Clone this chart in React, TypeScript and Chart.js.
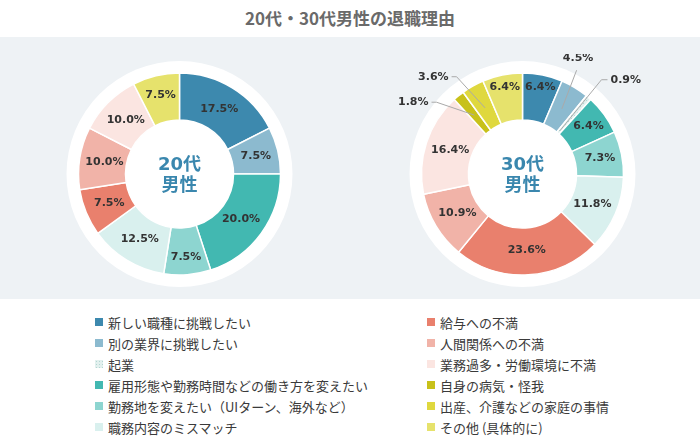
import React, { useEffect, useRef } from "react";
import { Chart, registerables } from "chart.js";

Chart.register(...registerables);

const categories = [
  "新しい職種に挑戦したい",
  "別の業界に挑戦したい",
  "起業",
  "雇用形態や勤務時間などの働き方を変えたい",
  "勤務地を変えたい（UIターン、海外など）",
  "職務内容のミスマッチ",
  "給与への不満",
  "人間関係への不満",
  "業務過多・労働環境に不満",
  "自身の病気・怪我",
  "出産、介護などの家庭の事情",
  "その他 (具体的に)",
];
const values20s = [17.5, 7.5, 0, 20.0, 7.5, 12.5, 7.5, 10.0, 10.0, 0, 0, 7.5];
const values30s = [6.4, 4.5, 0.9, 6.4, 7.3, 11.8, 23.6, 10.9, 16.4, 1.8, 3.6, 6.4];
const center20s = ["20代", "男性"];
const center30s = ["30代", "男性"];
const titleText = "20代・30代男性の退職理由";

const colors = [
  "#3d89ae",
  "#8cbacf",
  "PATTERN",
  "#42b8b1",
  "#8dd5d0",
  "#d9f0ee",
  "#e9806d",
  "#f1b3a8",
  "#fbe5e1",
  "#c8c11a",
  "#dfd83e",
  "#e6e26c",
];

type Outside = { shift: number; r: number; hook: number; mode: "above" | "side"; startR?: number };
const outside20s: Record<number, Outside> = {};
const outside30s: Record<number, Outside> = {
  1: { shift: -3.6, r: 117, hook: 0, mode: "above" },
  2: { shift: -0.9, r: 123, hook: 6, mode: "side", startR: 57 },
  9: { shift: -10.9, r: 112, hook: -5, mode: "side" },
  10: { shift: -4.6, r: 117.5, hook: -5, mode: "side" },
};
// inside-label radius tweaks for narrow slices (style only)
const labelRadius20s: Record<number, number> = { 1: 78.5, 4: 83, 11: 81 };
const labelRadius30s: Record<number, number> = { 0: 89, 3: 81.5, 4: 79, 11: 89 };

function makePattern(): CanvasPattern | string {
  const c = document.createElement("canvas");
  c.width = 3;
  c.height = 3;
  const g = c.getContext("2d");
  if (!g) return "#dfeeec";
  g.fillStyle = "#e2f0ee";
  g.fillRect(0, 0, 3, 3);
  g.fillStyle = "#b3d6d2";
  g.fillRect(1, 1, 1, 1);
  const p = g.createPattern(c, "repeat");
  return p || "#dfeeec";
}

function makePlugin(outside: Record<number, Outside>, radii: Record<number, number>, centerText: string[]) {
  return {
    id: "donutDecor",
    beforeDatasetsDraw(chart: any) {
      const meta = chart.getDatasetMeta(0);
      const arc = meta.data[0];
      if (!arc) return;
      const { x, y, outerRadius } = arc.getProps(["x", "y", "outerRadius"], true);
      const ctx = chart.ctx;
      ctx.save();
      ctx.beginPath();
      ctx.arc(x, y, outerRadius + 12, 0, Math.PI * 2);
      ctx.fillStyle = "#ffffff";
      ctx.fill();
      ctx.restore();
    },
    afterDatasetsDraw(chart: any) {
      const ctx = chart.ctx;
      const meta = chart.getDatasetMeta(0);
      const data = chart.data.datasets[0].data as number[];
      ctx.save();
      ctx.font = 'bold 11px "DejaVu Sans", "Noto Sans CJK JP"';
      ctx.fillStyle = "#333333";
      let cx = 0;
      let cy = 0;
      meta.data.forEach((el: any, i: number) => {
        const v = data[i];
        const p = el.getProps(["x", "y", "startAngle", "endAngle", "innerRadius", "outerRadius"], true);
        cx = p.x;
        cy = p.y;
        if (!v) return;
        const mid = (p.startAngle + p.endAngle) / 2;
        const label = v.toFixed(1) + "%";
        const o = outside[i];
        if (!o) {
          const rr = radii[i] ?? (p.innerRadius + p.outerRadius) / 2 - 1.5;
          ctx.textAlign = "center";
          ctx.textBaseline = "middle";
          ctx.fillText(label, p.x + Math.cos(mid) * rr, p.y + Math.sin(mid) * rr);
          return;
        }
        const sr = o.startR ?? (p.innerRadius + p.outerRadius) / 2 - 1.5;
        const sx = p.x + Math.cos(mid) * sr;
        const sy = p.y + Math.sin(mid) * sr;
        const ea = mid + (o.shift * Math.PI) / 180;
        const ex = p.x + Math.cos(ea) * o.r;
        const ey = p.y + Math.sin(ea) * o.r;
        ctx.beginPath();
        ctx.moveTo(sx, sy);
        ctx.lineTo(ex, ey);
        if (o.hook) ctx.lineTo(ex + o.hook, ey);
        ctx.strokeStyle = "#aaaaaa";
        ctx.lineWidth = 1;
        ctx.stroke();
        if (o.mode === "above") {
          ctx.textAlign = "center";
          ctx.textBaseline = "middle";
          ctx.fillText(label, ex + 1.5, ey - 12);
        } else {
          const right = o.hook >= 0;
          ctx.textAlign = right ? "left" : "right";
          ctx.textBaseline = "middle";
          ctx.fillText(label, ex + o.hook + (right ? 3 : -3), ey);
        }
      });
      ctx.font = 'bold 18px "DejaVu Sans", "Noto Sans CJK JP"';
      ctx.fillStyle = "#3a87ae";
      ctx.textAlign = "center";
      ctx.textBaseline = "middle";
      ctx.fillText(centerText[0], cx, cy - 8.5);
      ctx.fillText(centerText[1], cx, cy + 12.5);
      ctx.restore();
    },
  };
}

function Donut({
  values,
  outside,
  radii,
  center,
  style,
}: {
  values: number[];
  outside: Record<number, Outside>;
  radii: Record<number, number>;
  center: string[];
  style: React.CSSProperties;
}) {
  const ref = useRef<HTMLCanvasElement>(null);
  useEffect(() => {
    if (!ref.current) return;
    const pattern = makePattern();
    const bg = colors.map((c) => (c === "PATTERN" ? pattern : c));
    const chart = new Chart(ref.current, {
      type: "doughnut",
      data: {
        labels: categories,
        datasets: [
          {
            data: values,
            backgroundColor: bg as any,
            borderColor: "#ffffff",
            borderWidth: 1.5,
          },
        ],
      },
      options: {
        animation: false,
        responsive: false,
        events: [],
        radius: 101,
        cutout: "53.5%",
        layout: { padding: 0 },
        plugins: {
          legend: { display: false },
          tooltip: { enabled: false },
          title: { display: false },
        },
      } as any,
      plugins: [makePlugin(outside, radii, center) as any],
    });
    return () => chart.destroy();
  }, []);
  return <canvas ref={ref} width={319} height={240} style={{ position: "absolute", ...style }} />;
}

const legendFont = '"Noto Sans CJK JP", "Noto Sans", sans-serif';

function LegendItem({ i, x, y }: { i: number; x: number; y: number }) {
  const c = colors[i];
  const boxStyle: React.CSSProperties =
    c === "PATTERN"
      ? {
          backgroundColor: "#e2f0ee",
          backgroundImage: "radial-gradient(#b3d6d2 0.7px, transparent 0.9px)",
          backgroundSize: "3px 3px",
        }
      : { backgroundColor: c };
  return (
    <div
      style={{
        position: "absolute",
        left: x,
        top: y - 10.5,
        height: 21,
        display: "flex",
        alignItems: "center",
        whiteSpace: "nowrap",
      }}
    >
      <div style={{ width: 8, height: 8, marginRight: 5, ...boxStyle }} />
      <span style={{ fontFamily: legendFont, fontSize: 13, color: "#3a3a3a", lineHeight: "21px" }}>{categories[i]}</span>
    </div>
  );
}

export default function App() {
  return (
    <div
      style={{
        position: "absolute",
        left: 0,
        top: 0,
        width: 700,
        height: 439,
        background: "#ffffff",
        overflow: "hidden",
      }}
    >
      <div
        style={{
          position: "absolute",
          left: 0,
          top: 0,
          width: 700,
          height: 36,
          lineHeight: "36px",
          textAlign: "center",
          fontFamily: '"Noto Sans CJK JP", sans-serif',
          fontWeight: "bold",
          fontSize: 17,
          color: "#6a6a6a",
        }}
      >
        {titleText}
      </div>
      <div style={{ position: "absolute", left: 0, top: 37, width: 700, height: 262, background: "#eef2f5" }} />
      <Donut values={values20s} outside={outside20s} radii={labelRadius20s} center={center20s} style={{ left: 20, top: 54 }} />
      <Donut values={values30s} outside={outside30s} radii={labelRadius30s} center={center30s} style={{ left: 363, top: 54 }} />
      {categories.map((_, i) => (
        <LegendItem key={i} i={i} x={i < 6 ? 95 : 427} y={322 + (i % 6) * 21} />
      ))}
    </div>
  );
}
